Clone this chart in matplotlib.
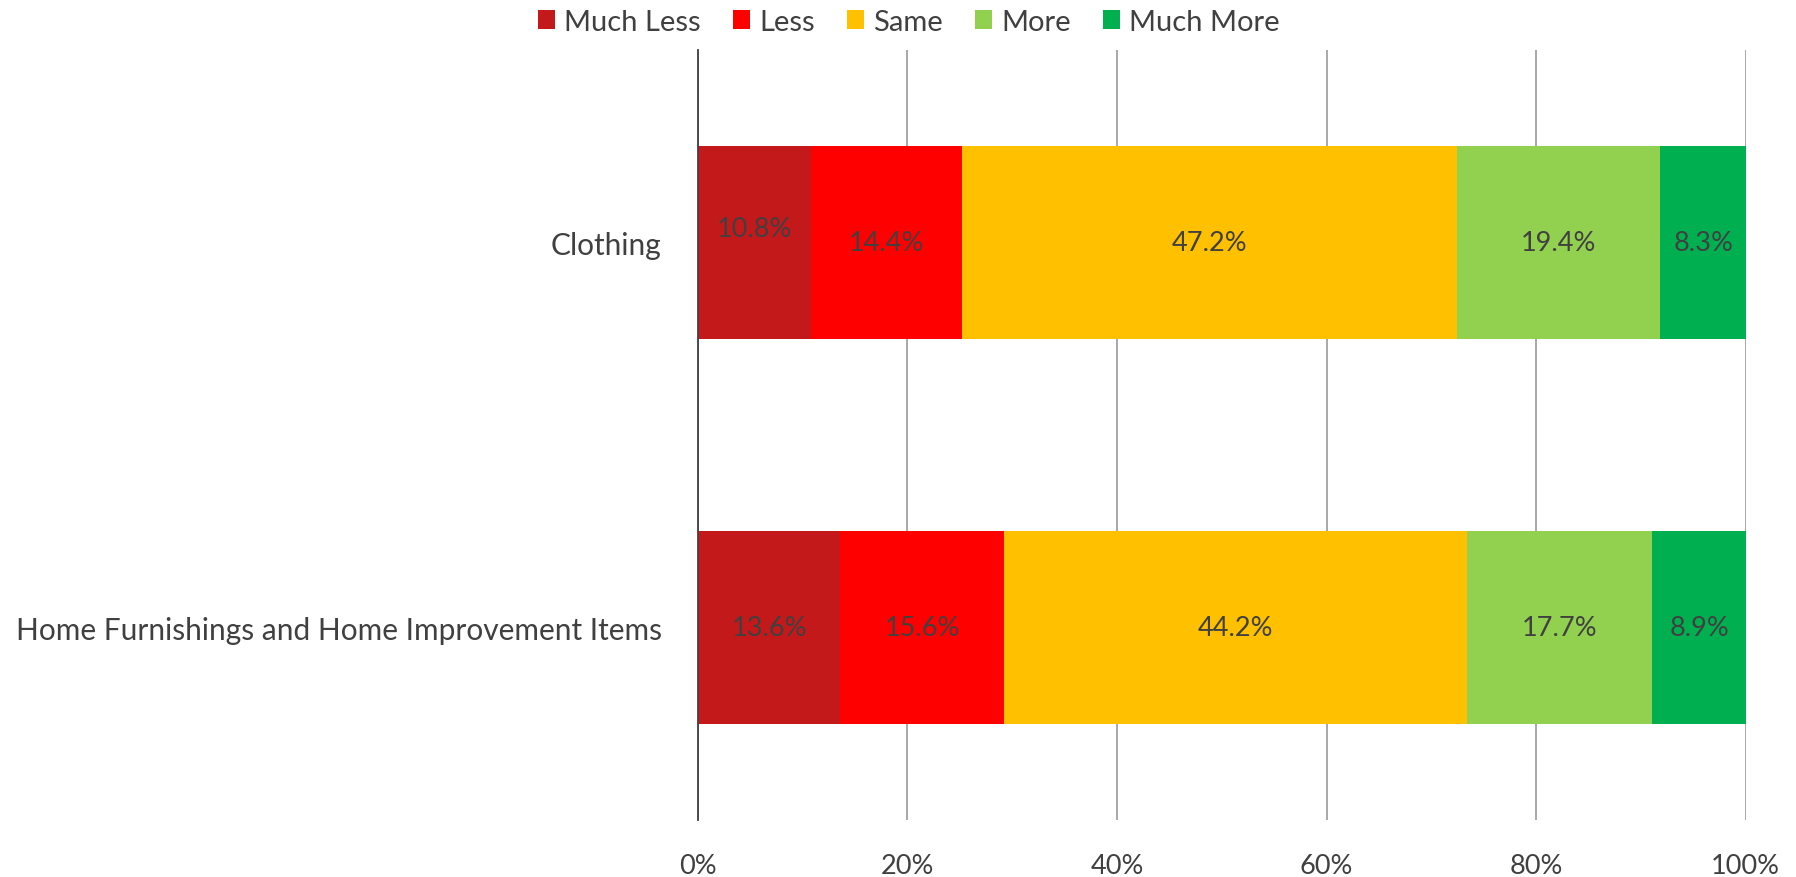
import matplotlib
matplotlib.use("Agg")
import matplotlib.pyplot as plt
import numpy as np

plt.rcParams['font.family'] = ['Lato', 'DejaVu Sans']

categories = ["Clothing", "Home Furnishings and Home Improvement Items"]
series = ["Much Less", "Less", "Same", "More", "Much More"]
values = {
    "Much Less": [10.8, 13.6],
    "Less": [14.4, 15.6],
    "Same": [47.2, 44.2],
    "More": [19.4, 17.7],
    "Much More": [8.3, 8.9],
}
colors = ["#C3191B", "#FF0000", "#FFC000", "#92D050", "#00B050"]
tick_vals = [0, 20, 40, 60, 80, 100]

text_col = "#404040"

fig = plt.figure(figsize=(17.96, 8.78), dpi=100)
ax = fig.add_axes([0.3886, 0.065, 0.5834, 0.877])

y = np.arange(len(categories))
left = np.zeros(len(categories))
for name, col in zip(series, colors):
    vals = np.array(values[name])
    ax.barh(y, vals, left=left, height=0.5, color=col, label=name, zorder=3)
    for i, v in enumerate(vals):
        # the first label sits a little above the bar centre
        dy = -0.035 if (name == "Much Less" and i == 0) else 0.0
        ax.text(left[i] + v / 2, y[i] + dy, f"{v:.1f}%", ha="center", va="center",
                fontsize=19.5, color=text_col, zorder=4)
    left += vals

ax.set_xlim(0, 100)
ax.set_ylim(1.5, -0.5)
ax.set_xticks(tick_vals)
ax.set_xticklabels([f"{t}%" for t in tick_vals])
ax.set_yticks(y)
ax.set_yticklabels(categories)
ax.tick_params(axis="x", length=0, pad=24, labelsize=19.5, labelcolor=text_col)
ax.tick_params(axis="y", length=0, pad=26, labelsize=21.5, labelcolor=text_col)
ax.grid(axis="x", color="#9a9a9a", linewidth=1.2, zorder=0)
for s in ["top", "right", "bottom"]:
    ax.spines[s].set_visible(False)
ax.spines["left"].set_color("#404040")
ax.spines["left"].set_linewidth(1.3)
ax.spines["left"].set_zorder(5)

fig.legend(loc="upper center", bbox_to_anchor=(0.506, 1.019), ncol=5, frameon=False,
           fontsize=21, handlelength=0.6, handleheight=0.6, handletextpad=0.3,
           columnspacing=1.1, labelcolor=text_col)

fig.savefig("out.png", dpi=100)
